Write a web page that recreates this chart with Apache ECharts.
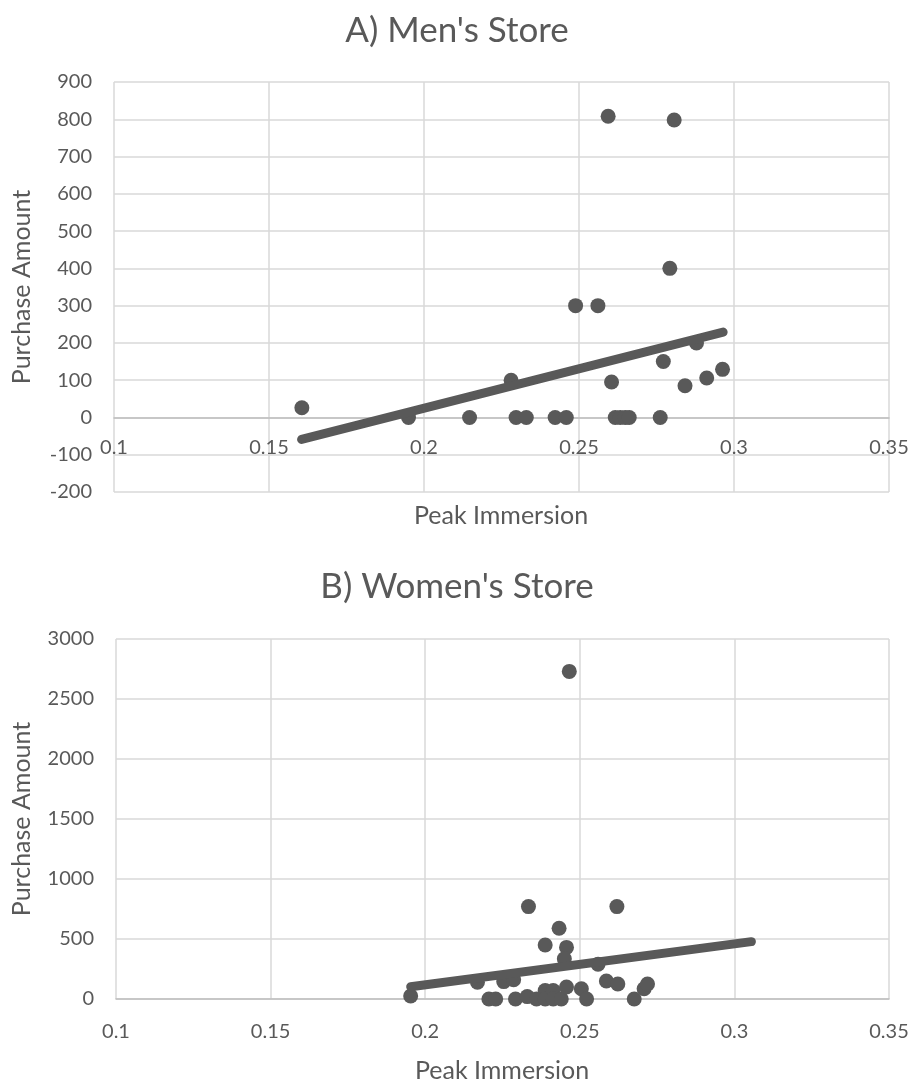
<!DOCTYPE html>
<html>
<head>
<meta charset="utf-8">
<script src="https://cdn.jsdelivr.net/npm/echarts@6/dist/echarts.min.js"></script>
<style>
html,body{margin:0;padding:0;background:#fff;}
#c{width:914px;height:1083px;}
</style>
</head>
<body>
<div id="c"></div>
<script>
// ---- Data ----
var titles = ["A) Men's Store", "B) Women's Store"];
var xName = "Peak Immersion";
var yName = "Purchase Amount";

var menX = [0.1606, 0.195, 0.2147, 0.2281, 0.2297, 0.2330, 0.2423, 0.2459, 0.2489, 0.2561, 0.2594, 0.2605, 0.2617, 0.2633, 0.2649, 0.2662, 0.2762, 0.2772, 0.2793, 0.2807, 0.2842, 0.2879, 0.2912, 0.2963];
var menY = [26, 0, 0, 100, 0, 0, 0, 0, 300, 300, 808, 95, 0, 0, 0, 0, 0, 150, 400, 798, 85, 200, 106, 129];
var menTrendX = [0.1605, 0.2965];
var menTrendY = [-59, 229];

var womenX = [0.1953, 0.2169, 0.2206, 0.2228, 0.2254, 0.2286, 0.2292, 0.2334, 0.2330, 0.2360, 0.2388, 0.2388, 0.2388, 0.2414, 0.2414, 0.2433, 0.2440, 0.2457, 0.2450, 0.2457, 0.2466, 0.2505, 0.2522, 0.2559, 0.2586, 0.2620, 0.2623, 0.2676, 0.2708, 0.2719];
var womenY = [25, 140, 0, 0, 145, 160, 0, 770, 20, 0, 70, 450, 0, 70, 0, 590, 0, 430, 335, 100, 2730, 85, 0, 290, 150, 770, 125, 0, 85, 125];
var womenTrendX = [0.1953, 0.3055];
var womenTrendY = [102, 478];

var xTicks = {min: 0.1, max: 0.35, interval: 0.05};
var menYTicks = {min: -200, max: 900, interval: 100};
var womenYTicks = {min: 0, max: 3000, interval: 500};

function pairs(xs, ys){ return xs.map(function(x,i){ return [x, ys[i]]; }); }

var FONT = 'Lato';
var TXT = '#595959';
var GRIDC = '#d9d9d9';
var DOT = '#595959';

var grids = [
  {left: 114, right: 25, top: 82, height: 410},
  {left: 116, right: 25, top: 639, height: 360}
];

// put the x axis where y = 0 (like the spreadsheet chart)
function zeroOffset(g, t){
  var frac = (0 - t.min) / (t.max - t.min);
  return -g.height * frac;
}

function xAxis(idx, yt, margin){
  return {
    type: 'value', gridIndex: idx,
    min: xTicks.min, max: xTicks.max, interval: xTicks.interval,
    offset: zeroOffset(grids[idx], yt),
    axisLine: {show: true, onZero: false, lineStyle: {color: '#bfbfbf', width: 1.5}},
    axisTick: {show: false},
    axisLabel: {color: TXT, fontFamily: FONT, fontSize: 20, margin: margin,
      formatter: function(v){ return String(+v.toFixed(2)); }},
    splitLine: {show: true, lineStyle: {color: GRIDC, width: 1.5}}
  };
}
function yAxis(idx, t, gap){
  return {
    type: 'value', gridIndex: idx,
    min: t.min, max: t.max, interval: t.interval,
    name: yName, nameLocation: 'middle', nameGap: gap, nameRotate: 90,
    nameTextStyle: {color: TXT, fontFamily: FONT, fontSize: 25},
    axisLine: {show: false}, axisTick: {show: false},
    axisLabel: {color: TXT, fontFamily: FONT, fontSize: 20, margin: 22,
      formatter: function(v){ return String(v); }},
    splitLine: {show: true, lineStyle: {color: GRIDC, width: 1.5}}
  };
}

var chart = echarts.init(document.getElementById('c'), null, {renderer: 'canvas'});
chart.setOption({
  backgroundColor: '#fff',
  animation: false,
  title: [
    {text: titles[0], left: 'center', top: 8, textStyle: {color: TXT, fontFamily: FONT, fontSize: 35, fontWeight: 'normal'}},
    {text: titles[1], left: 'center', top: 564, textStyle: {color: TXT, fontFamily: FONT, fontSize: 35, fontWeight: 'normal'}}
  ],
  grid: grids,
  xAxis: [xAxis(0, menYTicks, 20), xAxis(1, womenYTicks, 23)],
  yAxis: [yAxis(0, menYTicks, 80), yAxis(1, womenYTicks, 82)],
  graphic: [
    {type: 'text', x: 501, y: 516, style: {text: xName, fill: TXT, font: '25px ' + FONT, textAlign: 'center', textVerticalAlign: 'middle'}},
    {type: 'text', x: 502, y: 1071, style: {text: xName, fill: TXT, font: '25px ' + FONT, textAlign: 'center', textVerticalAlign: 'middle'}}
  ],
  series: [
    {type: 'scatter', xAxisIndex: 0, yAxisIndex: 0, data: pairs(menX, menY), symbolSize: 15, itemStyle: {color: DOT, opacity: 1}, z: 2},
    {type: 'line', xAxisIndex: 0, yAxisIndex: 0, data: pairs(menTrendX, menTrendY), symbol: 'none', lineStyle: {color: DOT, width: 9, cap: 'round'}, z: 3},
    {type: 'scatter', xAxisIndex: 1, yAxisIndex: 1, data: pairs(womenX, womenY), symbolSize: 15, itemStyle: {color: DOT, opacity: 1}, z: 2},
    {type: 'line', xAxisIndex: 1, yAxisIndex: 1, data: pairs(womenTrendX, womenTrendY), symbol: 'none', lineStyle: {color: DOT, width: 9, cap: 'round'}, z: 3}
  ]
});
</script>
</body>
</html>
